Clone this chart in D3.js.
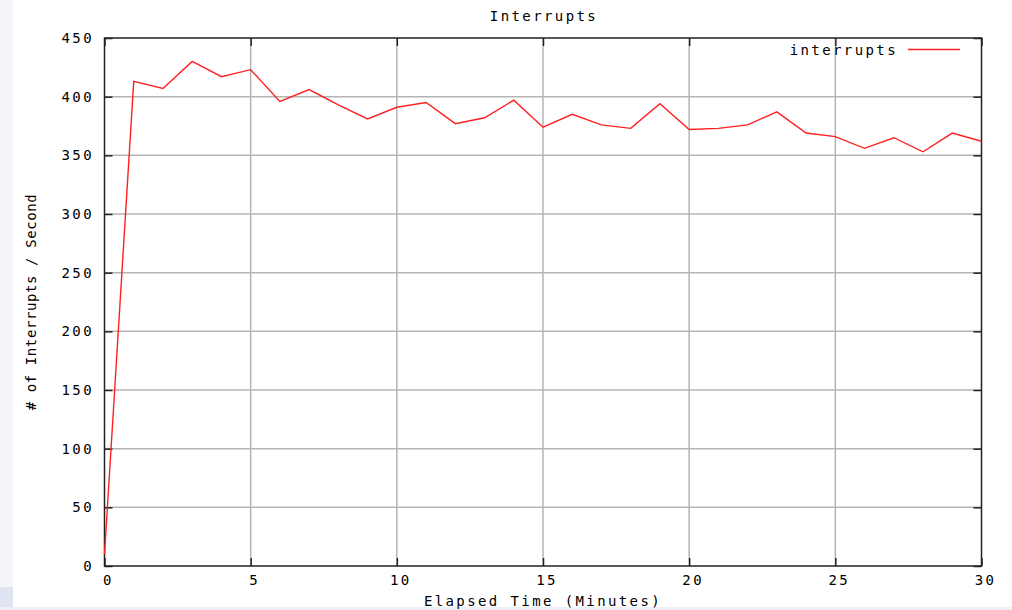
<!DOCTYPE html>
<html><head><meta charset="utf-8">
<script src="https://cdn.jsdelivr.net/npm/d3@7"></script>
<style>
html,body{margin:0;padding:0;background:#fff;}
svg text{font-family:"DejaVu Sans Mono",monospace;fill:#000;}
</style></head>
<body><svg id="c" width="1012" height="610"></svg>
<script>
const minutes = [0,1,2,3,4,5,6,7,8,9,10,11,12,13,14,15,16,17,18,19,20,21,22,23,24,25,26,27,28,29,30];
const interrupts = [10,413,407,430,417,423,396,406,393,381,391,395,377,382,397,374,385,376,373,394,372,373,376,387,369,366,356,365,353,369,362];
const xTicks = [0,5,10,15,20,25,30];
const yTicks = [0,50,100,150,200,250,300,350,400,450];
const title = "Interrupts";
const xLabel = "Elapsed Time (Minutes)";
const yLabel = "# of Interrupts / Second";
const seriesName = "interrupts";

const svg = d3.select("#c");
// page background strips
svg.append("rect").attr("x",0).attr("y",0).attr("width",13).attr("height",610).attr("fill","#f3f5fa");
svg.append("rect").attr("x",0).attr("y",607).attr("width",1012).attr("height",3).attr("fill","#eef0f6");
svg.append("rect").attr("x",0).attr("y",587).attr("width",13).attr("height",20).attr("fill","#dfe4f1");

const L=104.5, R=981.5, T=38, B=566;
const x = d3.scaleLinear().domain([0,30]).range([L,R]);
const y = d3.scaleLinear().domain([0,450]).range([B,T]);

// grid
const g = svg.append("g");
g.selectAll("line.gx").data(xTicks.slice(1,-1)).join("line")
  .attr("x1",d=>x(d)).attr("x2",d=>x(d)).attr("y1",T).attr("y2",B)
  .attr("stroke","#b4b4b4").attr("stroke-width",1.5);
g.selectAll("line.gy").data(yTicks.slice(1,-1)).join("line")
  .attr("x1",L).attr("x2",R).attr("y1",d=>y(d)).attr("y2",d=>y(d))
  .attr("stroke","#b4b4b4").attr("stroke-width",1.5);

// axes with ticks (inner)
const fmt = d3.format("d");
const axL = svg.append("g").attr("transform",`translate(${L},0)`)
  .call(d3.axisRight(y).tickValues(yTicks).tickSize(8).tickFormat(""));
const axR = svg.append("g").attr("transform",`translate(${R},0)`)
  .call(d3.axisLeft(y).tickValues(yTicks).tickSize(8).tickFormat(""));
const axB = svg.append("g").attr("transform",`translate(0,${B})`)
  .call(d3.axisTop(x).tickValues(xTicks).tickSize(8).tickFormat(""));
const axT = svg.append("g").attr("transform",`translate(0,${T})`)
  .call(d3.axisBottom(x).tickValues(xTicks).tickSize(8).tickFormat(""));
[axL,axR,axB,axT].forEach(a=>{
  a.selectAll(".domain").remove();
  a.selectAll("line").attr("stroke","#222").attr("stroke-width",1.5);
});
svg.append("rect").attr("x",L).attr("y",T).attr("width",R-L).attr("height",B-T)
  .attr("fill","none").attr("stroke","#222").attr("stroke-width",1.5);

const fs = "14px", ls = "2.4px";
// tick labels
svg.selectAll("text.yt").data(yTicks).join("text")
  .attr("x",94).attr("y",d=>y(d)+5).attr("text-anchor","end")
  .style("font-size",fs).style("letter-spacing",ls)
  .text(d=>fmt(d));
svg.selectAll("text.xt").data(xTicks).join("text")
  .attr("x",d=>x(d)+4).attr("y",585).attr("text-anchor","middle")
  .style("font-size",fs).style("letter-spacing",ls)
  .text(d=>fmt(d));

// titles
svg.append("text").attr("x",544).attr("y",21).attr("text-anchor","middle")
  .style("font-size",fs).style("letter-spacing",ls).text(title);
svg.append("text").attr("x",543).attr("y",606).attr("text-anchor","middle")
  .style("font-size",fs).style("letter-spacing",ls).text(xLabel);
svg.append("text").attr("transform","translate(36,302) rotate(-90)").attr("text-anchor","middle")
  .style("font-size",fs).style("letter-spacing","0.6px").text(yLabel);

// line
const line = d3.line().x((d,i)=>x(minutes[i])).y(d=>y(d));
svg.append("path").datum(interrupts).attr("d",line)
  .attr("fill","none").attr("stroke","#ff2020").attr("stroke-width",1.4);

// legend
svg.append("text").attr("x",898).attr("y",55).attr("text-anchor","end")
  .style("font-size",fs).style("letter-spacing",ls).text(seriesName);
svg.append("line").attr("x1",908).attr("x2",960).attr("y1",49.5).attr("y2",49.5)
  .attr("stroke","#ff2020").attr("stroke-width",1.4);
</script></body></html>
